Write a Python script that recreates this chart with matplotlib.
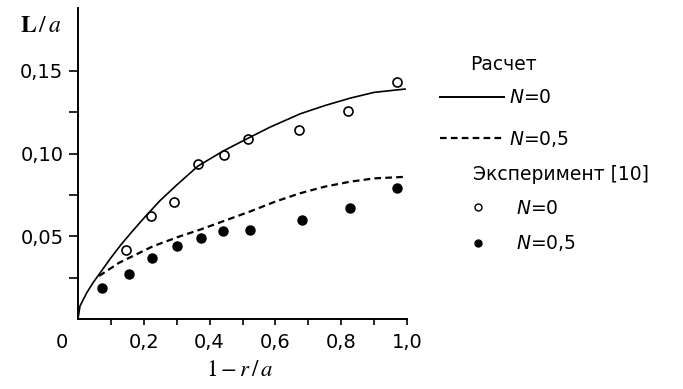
import matplotlib.pyplot as plt
from matplotlib.font_manager import FontProperties
from matplotlib.lines import Line2D

plt.rcParams['font.family'] = ['DejaVu Sans']

# calculated curves
calc_x0 = [0, 0.006, 0.027, 0.046, 0.064, 0.10, 0.131, 0.165, 0.198, 0.249,
           0.30, 0.365, 0.441, 0.514, 0.584, 0.675, 0.75, 0.827, 0.90, 0.994]
calc_y0 = [0, 0.0078, 0.016, 0.022, 0.027, 0.037, 0.045, 0.053, 0.0605, 0.0715,
           0.081, 0.0925, 0.1015, 0.109, 0.116, 0.124, 0.129, 0.1335, 0.137, 0.139]

calc_x5 = [0.064, 0.125, 0.228, 0.31, 0.371, 0.44, 0.523, 0.60, 0.675, 0.75,
           0.827, 0.90, 1.0]
calc_y5 = [0.026, 0.034, 0.044, 0.050, 0.054, 0.059, 0.065, 0.071, 0.076, 0.080,
           0.083, 0.085, 0.086]

# experiment [10]
exp_x0 = [0.146, 0.222, 0.292, 0.365, 0.444, 0.517, 0.672, 0.82, 0.97]
exp_y0 = [0.042, 0.062, 0.071, 0.094, 0.099, 0.109, 0.114, 0.126, 0.143]

exp_x5 = [0.072, 0.155, 0.225, 0.30, 0.374, 0.441, 0.523, 0.68, 0.827, 0.97]
exp_y5 = [0.0187, 0.027, 0.0367, 0.044, 0.049, 0.053, 0.054, 0.0596, 0.0669, 0.079]

xticks = [0.2, 0.4, 0.6, 0.8, 1.0]
xticklabels = ['0,2', '0,4', '0,6', '0,8', '1,0']
yticks = [0.05, 0.10, 0.15]
yticklabels = ['0,05', '0,10', '0,15']

W, H = 683, 389
fig = plt.figure(figsize=(W / 100, H / 100), dpi=100)
ax = fig.add_axes([78 / W, 70 / H, (407 - 78) / W, (319 - 8) / H])

ax.plot(calc_x0, calc_y0, color='black', lw=1.2)
ax.plot(calc_x5, calc_y5, color='black', lw=1.6, dashes=(3.0, 1.9))
ax.plot(exp_x0, exp_y0, 'o', ms=6.5, mfc='none', mec='black', mew=1.2)
ax.plot(exp_x5, exp_y5, 'o', ms=6.5, color='black')

ax.set_xlim(0, 1.0)
ax.set_ylim(0, 0.188)
for s in ['top', 'right']:
    ax.spines[s].set_visible(False)
for s in ['left', 'bottom']:
    ax.spines[s].set_linewidth(1.4)

ax.set_xticks(xticks, xticklabels)
ax.set_xticks([0.1, 0.3, 0.5, 0.7, 0.9], minor=True)
ax.set_yticks(yticks, yticklabels)
ax.set_yticks([0.025, 0.075, 0.125], minor=True)
ax.tick_params(axis='x', which='both', direction='out', length=4, width=1.2,
               pad=6, labelsize=14)
ax.tick_params(axis='y', which='both', direction='out', length=6.5, width=1.2,
               pad=4, labelsize=14)

ax.text(-16 / 329, -24 / 311, '0', transform=ax.transAxes, fontsize=14,
        ha='center', va='center')

ax.text(-37 / 329, (319 - 25) / 311, r'$\mathbf{L}\,/\,a$', transform=ax.transAxes,
        fontsize=17, ha='center', va='center', math_fontfamily='stix')
ax.text(0.49, -51 / 311, r'$1-r\,/\,a$', transform=ax.transAxes,
        fontsize=16.5, ha='center', va='center', math_fontfamily='stix')

# legend
lp = FontProperties(family='DejaVu Sans', size=13.5, math_fontfamily='dejavusans')
fig.text(470 / W, 1 - 65 / H, 'Расчет', fontproperties=lp, va='center')
fig.text(473 / W, 1 - 175 / H, 'Эксперимент [10]', fontproperties=lp, va='center')

h1 = [Line2D([], [], color='black', lw=1.4),
      Line2D([], [], color='black', lw=1.6, dashes=(3.0, 1.9))]
leg1 = fig.legend(h1, [r'$N$=0', r'$N$=0,5'], loc='center left',
                  bbox_to_anchor=(440 / W, 1 - 118.5 / H), frameon=False,
                  prop=lp, borderpad=0, borderaxespad=0, handlelength=3.4,
                  handletextpad=0.3, labelspacing=1.15)
h2 = [Line2D([], [], ls='none', marker='o', ms=5, mfc='none', mec='black', mew=1.0),
      Line2D([], [], ls='none', marker='o', ms=5, color='black')]
leg2 = fig.legend(h2, [r'$N$=0', r'$N$=0,5'], loc='center left',
                  bbox_to_anchor=(465 / W, 1 - 226 / H), frameon=False,
                  prop=lp, borderpad=0, borderaxespad=0, handlelength=1.4,
                  handletextpad=1.3, labelspacing=0.85)

fig.savefig('out.png', dpi=100)
